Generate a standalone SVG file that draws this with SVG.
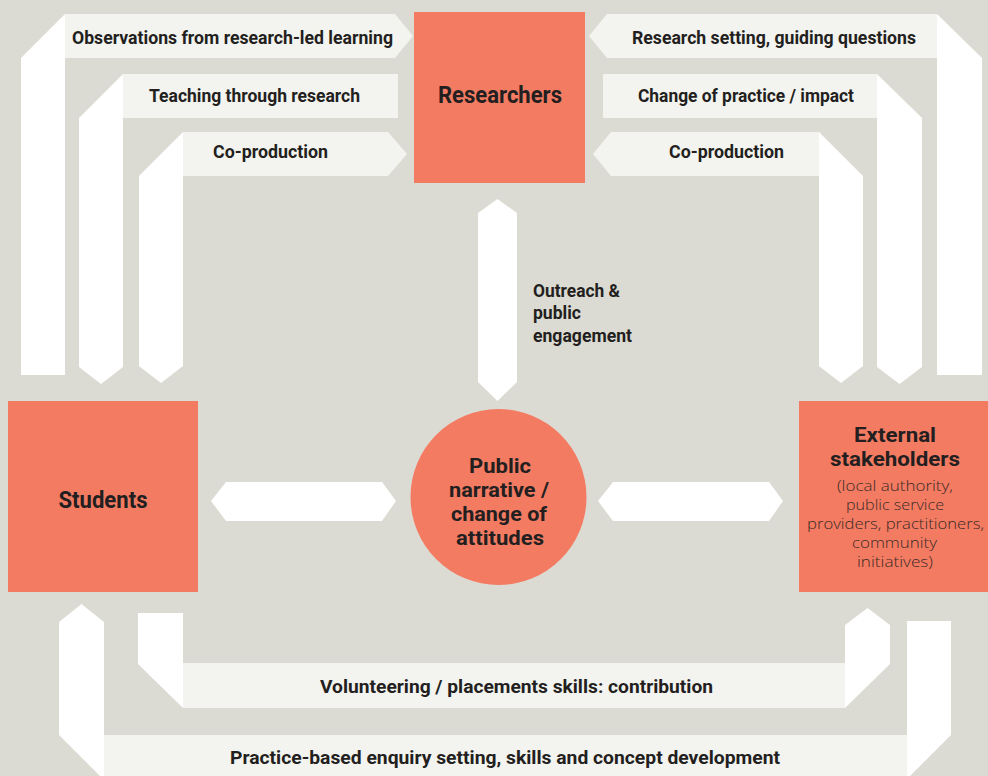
<svg xmlns="http://www.w3.org/2000/svg" width="988" height="776" viewBox="0 0 988 776">
<style>
.bg{fill:#dcdbd3}
.node{fill:#f37b62}
.bar{fill:#ffffff}
.band{fill:#f3f3ef}
.t{font-family:"Liberation Sans Narrow","Roboto","Liberation Sans",sans-serif;font-weight:bold;fill:#231f20;text-anchor:middle}
.lab{font-size:19px}
.big{font-size:23px}
.mid{font-size:21px}
.sub{font-family:"Open Sans","Noto Sans","DejaVu Sans",sans-serif;font-weight:300;font-size:15px;fill:#3a2a26;text-anchor:middle}
</style>
<rect class="bg" x="0" y="0" width="988" height="776"/>
<g id="connectors">
  <g id="c-observations">
    <polygon class="bar" points="21,58 65,14 65,375 21,375"/>
    <polygon class="band" points="65,14 395,14 413,36 395,58 65,58"/>
    <text class="t lab" x="232.5" y="44" textLength="321" lengthAdjust="spacingAndGlyphs">Observations from research-led learning</text>
  </g>
  <g id="c-teaching">
    <polygon class="bar" points="79,118 123,74 123,367 101,384 79,367"/>
    <rect class="band" x="123" y="74" width="275" height="44"/>
    <text class="t lab" x="254.5" y="102" textLength="211" lengthAdjust="spacingAndGlyphs">Teaching through research</text>
  </g>
  <g id="c-coprod-left">
    <polygon class="bar" points="139,176 183,132 183,366 161,383 139,366"/>
    <polygon class="band" points="183,132 388,132 407,154 388,176 183,176"/>
    <text class="t lab" x="270.5" y="158" textLength="115" lengthAdjust="spacingAndGlyphs">Co-production</text>
  </g>
  <g id="c-research-setting">
    <polygon class="bar" points="937,14 982,58 982,375 937,375"/>
    <polygon class="band" points="607,14 937,14 937,58 607,58 589,36"/>
    <text class="t lab" x="774" y="44" textLength="284" lengthAdjust="spacingAndGlyphs">Research setting, guiding questions</text>
  </g>
  <g id="c-change">
    <polygon class="bar" points="877,74 922,118 922,367 899.5,384 877,367"/>
    <rect class="band" x="603" y="74" width="274" height="44"/>
    <text class="t lab" x="746" y="102" textLength="216" lengthAdjust="spacingAndGlyphs">Change of practice / impact</text>
  </g>
  <g id="c-coprod-right">
    <polygon class="bar" points="819,132 863,176 863,366 841,383 819,366"/>
    <polygon class="band" points="611,132 819,132 819,176 611,176 593,154"/>
    <text class="t lab" x="726.5" y="158" textLength="115" lengthAdjust="spacingAndGlyphs">Co-production</text>
  </g>
  <g id="c-outreach">
    <polygon class="bar" points="497.5,199 517,213 517,382 497.5,401 478,382 478,213"/>
    <text class="t lab" x="533" y="297" style="text-anchor:start" textLength="87" lengthAdjust="spacingAndGlyphs">Outreach &amp;</text>
    <text class="t lab" x="533" y="319" style="text-anchor:start" textLength="48" lengthAdjust="spacingAndGlyphs">public</text>
    <text class="t lab" x="533" y="342" style="text-anchor:start" textLength="99" lengthAdjust="spacingAndGlyphs">engagement</text>
  </g>
  <g id="c-students-public">
    <polygon class="bar" points="211,501 226,482 382,482 396,501 382,521 226,521"/>
  </g>
  <g id="c-public-external">
    <polygon class="bar" points="598,501 613,482 769,482 783,501 769,521 613,521"/>
  </g>
  <g id="c-volunteering">
    <polygon class="bar" points="138,613 183,613 183,708 138,664"/>
    <rect class="band" x="183" y="663" width="662" height="45"/>
    <polygon class="bar" points="867.5,608 890,625 890,664 845,708 845,625"/>
    <text class="t lab" x="516.5" y="693" textLength="393" lengthAdjust="spacingAndGlyphs">Volunteering / placements skills: contribution</text>
  </g>
  <g id="c-practice">
    <polygon class="bar" points="81.5,604 104,622 104,780 59,735 59,622"/>
    <rect class="band" x="104" y="735" width="803" height="45"/>
    <polygon class="bar" points="907,621 951,621 951,735 907,779"/>
    <text class="t lab" x="505" y="764" textLength="550" lengthAdjust="spacingAndGlyphs">Practice-based enquiry setting, skills and concept development</text>
  </g>
</g>
<g id="researchers">
  <rect class="node" x="414" y="12" width="171" height="171"/>
  <text class="t big" x="500" y="103" textLength="124" lengthAdjust="spacingAndGlyphs">Researchers</text>
</g>
<g id="students">
  <rect class="node" x="8" y="401" width="190" height="191"/>
  <text class="t big" x="103" y="508" textLength="89" lengthAdjust="spacingAndGlyphs">Students</text>
</g>
<g id="external">
  <rect class="node" x="799" y="401" width="189" height="191"/>
  <text class="t mid" x="895" y="442" textLength="82" lengthAdjust="spacingAndGlyphs">External</text>
  <text class="t mid" x="895" y="466" textLength="130" lengthAdjust="spacingAndGlyphs">stakeholders</text>
  <text class="sub" x="895" y="491" textLength="116" lengthAdjust="spacingAndGlyphs">(local authority,</text>
  <text class="sub" x="895" y="510" textLength="98" lengthAdjust="spacingAndGlyphs">public service</text>
  <text class="sub" x="895.5" y="529" textLength="177" lengthAdjust="spacingAndGlyphs">providers, practitioners,</text>
  <text class="sub" x="894.5" y="548" textLength="85" lengthAdjust="spacingAndGlyphs">community</text>
  <text class="sub" x="895" y="567" textLength="76" lengthAdjust="spacingAndGlyphs">initiatives)</text>
</g>
<g id="public">
  <circle class="node" cx="498.5" cy="497" r="88"/>
  <text class="t mid" x="500" y="473" textLength="62" lengthAdjust="spacingAndGlyphs">Public</text>
  <text class="t mid" x="499" y="497" textLength="100" lengthAdjust="spacingAndGlyphs">narrative /</text>
  <text class="t mid" x="499" y="521" textLength="96" lengthAdjust="spacingAndGlyphs">change of</text>
  <text class="t mid" x="500" y="545" textLength="88" lengthAdjust="spacingAndGlyphs">attitudes</text>
</g>
</svg>
